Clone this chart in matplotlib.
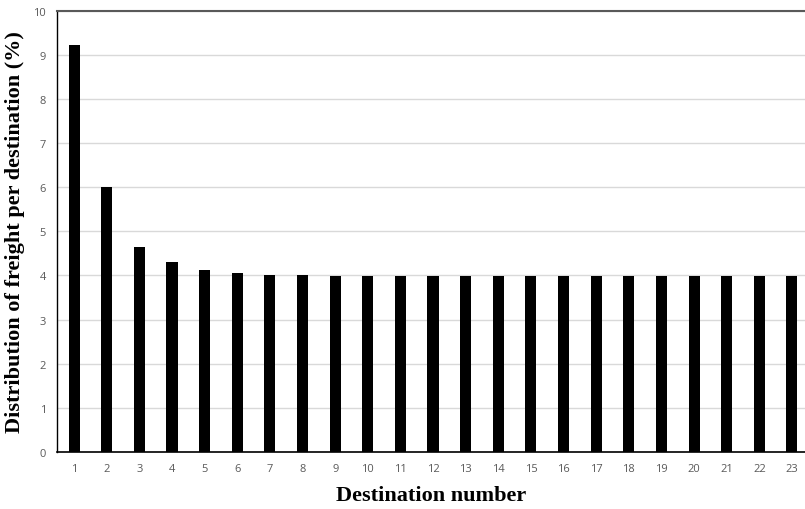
import matplotlib
matplotlib.use('Agg')
import matplotlib.pyplot as plt
import numpy as np

destinations = list(range(1, 24))
freight_pct = [9.22, 6.01, 4.65, 4.30, 4.13, 4.05, 4.02, 4.00, 3.99, 3.98,
               3.98, 3.98, 3.98, 3.98, 3.98, 3.98, 3.98, 3.98, 3.98, 3.98,
               3.98, 3.98, 3.98]

fig = plt.figure(figsize=(8.05, 5.1), dpi=100)
ax = fig.add_axes([0.071, 0.112, 0.929, 0.865])

ax.bar(destinations, freight_pct, width=0.34, color='black', zorder=3)

ax.set_xlim(0.48, 23.4)
ax.set_ylim(0, 10)
ax.set_yticks(np.arange(0, 11, 1))
ax.set_xticks(destinations)
ax.grid(axis='y', color='#d9d9d9', linewidth=1.0, zorder=0)

ax.spines['right'].set_visible(False)
ax.spines['top'].set_color('#595959')
ax.spines['top'].set_linewidth(1.5)
ax.spines['left'].set_color('black')
ax.spines['left'].set_linewidth(1.0)
ax.spines['bottom'].set_color('black')
ax.spines['bottom'].set_linewidth(1.2)

ax.tick_params(axis='both', length=0, labelsize=8, labelcolor='#595959', pad=8)
for lbl in ax.get_xticklabels() + ax.get_yticklabels():
    lbl.set_family('Open Sans')

ax.set_ylabel('Distribution of freight per destination (%)', family='Liberation Serif',
              fontweight='bold', fontsize=16, labelpad=6)
ax.set_xlabel('Destination number', family='Liberation Serif',
              fontweight='bold', fontsize=16, labelpad=8)

fig.savefig('out.png', dpi=100)
